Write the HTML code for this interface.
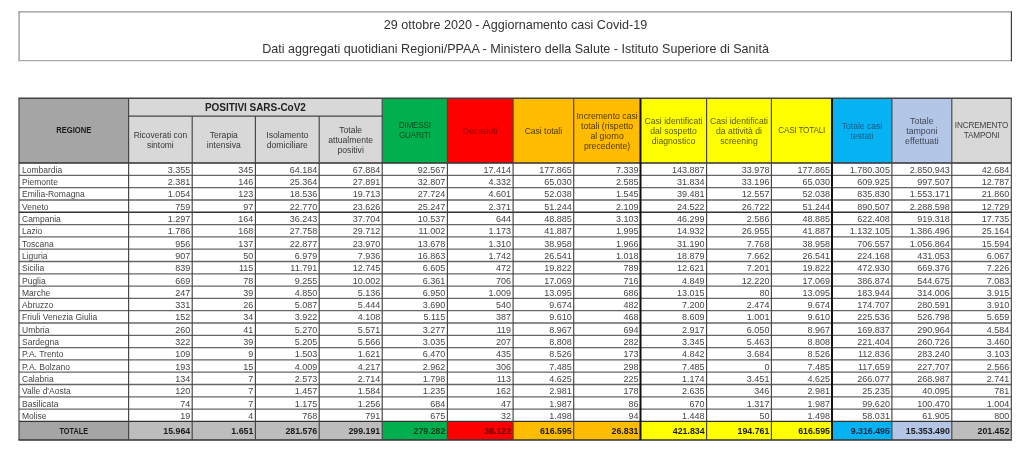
<!DOCTYPE html>
<html><head><meta charset="utf-8"><style>
html,body{margin:0;padding:0;background:#fff;width:1024px;height:451px;overflow:hidden}
body{position:relative;font-family:"Liberation Sans",sans-serif;color:#454545}
#w>div{position:absolute;box-sizing:border-box}
.title{left:19px;top:11px;width:993px;height:50px}
.t1,.t2{position:absolute;left:0;width:100%;text-align:center;font-size:12.57px;color:#333;white-space:nowrap;line-height:14px}
.t1{top:7px}
.t2{top:31.2px}
.ht{position:absolute;left:0;right:0;top:calc(50% + 0.5px);transform:translateY(-50%);text-align:center;font-size:8.6px;line-height:10px}
.b{font-weight:bold}
.pos{position:absolute;left:0;right:0;top:3.4px;text-align:center;font-size:10px;letter-spacing:-0.05px;font-weight:bold;color:#222;line-height:12px}
.dl{position:absolute;left:3px;bottom:0.6px;font-size:8.5px;line-height:10px;white-space:nowrap}
.dr{position:absolute;right:2px;bottom:0.6px;font-size:9px;line-height:10px;white-space:nowrap}
.tc{position:absolute;left:0;right:0;text-align:center;top:4.9px;font-size:8.8px;transform:scaleX(0.83);font-weight:bold;color:#1a1a1a;line-height:10px}
.rg{transform:translateY(-50%) scaleX(0.93)}
.tr{position:absolute;right:2px;top:4.8px;font-size:8.8px;font-weight:bold;color:#1a1a1a;line-height:10px}
.ln{position:absolute}
</style></head><body>
<div id="w" style="position:absolute;left:0;top:0;width:1024px;height:451px;filter:blur(0.35px)">
<svg width="1024" height="451" style="position:absolute;left:0;top:0"><rect x="19.00" y="98.20" width="109.60" height="64.90" fill="#a5a5a5"/><rect x="128.60" y="116.20" width="63.60" height="46.90" fill="#d8d8d8"/><rect x="192.20" y="116.20" width="63.20" height="46.90" fill="#d8d8d8"/><rect x="255.40" y="116.20" width="63.80" height="46.90" fill="#d8d8d8"/><rect x="319.20" y="116.20" width="63.00" height="46.90" fill="#d8d8d8"/><rect x="382.20" y="98.20" width="65.20" height="64.90" fill="#00b04f"/><rect x="447.40" y="98.20" width="65.70" height="64.90" fill="#fe0000"/><rect x="513.10" y="98.20" width="60.60" height="64.90" fill="#ffbc00"/><rect x="573.70" y="98.20" width="66.80" height="64.90" fill="#ffbc00"/><rect x="640.50" y="98.20" width="66.10" height="64.90" fill="#ffff00"/><rect x="706.60" y="98.20" width="64.80" height="64.90" fill="#ffff00"/><rect x="771.40" y="98.20" width="60.60" height="64.90" fill="#ffff00"/><rect x="832.00" y="98.20" width="59.90" height="64.90" fill="#06b2f2"/><rect x="891.90" y="98.20" width="59.90" height="64.90" fill="#b4c6e6"/><rect x="951.80" y="98.20" width="59.50" height="64.90" fill="#d8d8d8"/><rect x="128.60" y="98.20" width="253.60" height="18.00" fill="#d8d8d8"/><rect x="19.00" y="421.40" width="109.60" height="18.60" fill="#a5a5a5"/><rect x="128.60" y="421.40" width="63.60" height="18.60" fill="#bdbdbd"/><rect x="192.20" y="421.40" width="63.20" height="18.60" fill="#bdbdbd"/><rect x="255.40" y="421.40" width="63.80" height="18.60" fill="#bdbdbd"/><rect x="319.20" y="421.40" width="63.00" height="18.60" fill="#bdbdbd"/><rect x="382.20" y="421.40" width="65.20" height="18.60" fill="#00b04f"/><rect x="447.40" y="421.40" width="65.70" height="18.60" fill="#fe0000"/><rect x="513.10" y="421.40" width="60.60" height="18.60" fill="#ffbc00"/><rect x="573.70" y="421.40" width="66.80" height="18.60" fill="#ffbc00"/><rect x="640.50" y="421.40" width="66.10" height="18.60" fill="#ffff00"/><rect x="706.60" y="421.40" width="64.80" height="18.60" fill="#ffff00"/><rect x="771.40" y="421.40" width="60.60" height="18.60" fill="#ffff00"/><rect x="832.00" y="421.40" width="59.90" height="18.60" fill="#06b2f2"/><rect x="891.90" y="421.40" width="59.90" height="18.60" fill="#b4c6e6"/><rect x="951.80" y="421.40" width="59.50" height="18.60" fill="#bdbdbd"/><line x1="18.40" y1="98.20" x2="1011.90" y2="98.20" stroke="#444444" stroke-width="1.4"/><line x1="128.60" y1="116.20" x2="382.20" y2="116.20" stroke="#444444" stroke-width="1.3"/><line x1="19.00" y1="163.10" x2="1011.30" y2="163.10" stroke="#333" stroke-width="1.5"/><line x1="19.00" y1="175.40" x2="1011.30" y2="175.40" stroke="#666666" stroke-width="1.3"/><line x1="19.00" y1="187.70" x2="1011.30" y2="187.70" stroke="#666666" stroke-width="1.3"/><line x1="19.00" y1="200.00" x2="1011.30" y2="200.00" stroke="#666666" stroke-width="1.3"/><line x1="19.00" y1="212.30" x2="1011.30" y2="212.30" stroke="#333333" stroke-width="1.4"/><line x1="19.00" y1="224.60" x2="1011.30" y2="224.60" stroke="#666666" stroke-width="1.3"/><line x1="19.00" y1="236.90" x2="1011.30" y2="236.90" stroke="#666666" stroke-width="1.3"/><line x1="19.00" y1="249.20" x2="1011.30" y2="249.20" stroke="#666666" stroke-width="1.3"/><line x1="19.00" y1="261.50" x2="1011.30" y2="261.50" stroke="#666666" stroke-width="1.3"/><line x1="19.00" y1="273.80" x2="1011.30" y2="273.80" stroke="#666666" stroke-width="1.3"/><line x1="19.00" y1="286.10" x2="1011.30" y2="286.10" stroke="#666666" stroke-width="1.3"/><line x1="19.00" y1="298.40" x2="1011.30" y2="298.40" stroke="#666666" stroke-width="1.3"/><line x1="19.00" y1="310.70" x2="1011.30" y2="310.70" stroke="#666666" stroke-width="1.3"/><line x1="19.00" y1="323.00" x2="1011.30" y2="323.00" stroke="#666666" stroke-width="1.3"/><line x1="19.00" y1="335.30" x2="1011.30" y2="335.30" stroke="#666666" stroke-width="1.3"/><line x1="19.00" y1="347.60" x2="1011.30" y2="347.60" stroke="#666666" stroke-width="1.3"/><line x1="19.00" y1="359.90" x2="1011.30" y2="359.90" stroke="#666666" stroke-width="1.3"/><line x1="19.00" y1="372.20" x2="1011.30" y2="372.20" stroke="#666666" stroke-width="1.3"/><line x1="19.00" y1="384.50" x2="1011.30" y2="384.50" stroke="#666666" stroke-width="1.3"/><line x1="19.00" y1="396.80" x2="1011.30" y2="396.80" stroke="#666666" stroke-width="1.3"/><line x1="19.00" y1="409.10" x2="1011.30" y2="409.10" stroke="#666666" stroke-width="1.3"/><line x1="19.00" y1="421.40" x2="1011.30" y2="421.40" stroke="#333" stroke-width="1.4"/><line x1="18.40" y1="440.00" x2="1011.90" y2="440.00" stroke="#333" stroke-width="1.5"/><line x1="19.00" y1="98.20" x2="19.00" y2="440.00" stroke="#444444" stroke-width="1.15"/><line x1="128.60" y1="98.20" x2="128.60" y2="440.00" stroke="#444444" stroke-width="1.15"/><line x1="192.20" y1="116.20" x2="192.20" y2="440.00" stroke="#444444" stroke-width="1.15"/><line x1="255.40" y1="116.20" x2="255.40" y2="440.00" stroke="#444444" stroke-width="1.15"/><line x1="319.20" y1="116.20" x2="319.20" y2="440.00" stroke="#444444" stroke-width="1.15"/><line x1="382.20" y1="98.20" x2="382.20" y2="440.00" stroke="#444444" stroke-width="1.15"/><line x1="447.40" y1="98.20" x2="447.40" y2="440.00" stroke="#444444" stroke-width="1.15"/><line x1="513.10" y1="98.20" x2="513.10" y2="440.00" stroke="#444444" stroke-width="1.15"/><line x1="573.70" y1="98.20" x2="573.70" y2="440.00" stroke="#444444" stroke-width="1.15"/><line x1="640.50" y1="98.20" x2="640.50" y2="440.00" stroke="#111" stroke-width="2.0"/><line x1="706.60" y1="98.20" x2="706.60" y2="440.00" stroke="#444444" stroke-width="1.15"/><line x1="771.40" y1="98.20" x2="771.40" y2="440.00" stroke="#444444" stroke-width="1.15"/><line x1="832.00" y1="98.20" x2="832.00" y2="440.00" stroke="#111" stroke-width="2.0"/><line x1="891.90" y1="98.20" x2="891.90" y2="440.00" stroke="#444444" stroke-width="1.15"/><line x1="951.80" y1="98.20" x2="951.80" y2="440.00" stroke="#444444" stroke-width="1.15"/><line x1="1011.30" y1="98.20" x2="1011.30" y2="440.00" stroke="#444444" stroke-width="1.15"/><line x1="18.5" y1="11.8" x2="1011.4" y2="11.8" stroke="#959595" stroke-width="1.3"/><line x1="19.1" y1="11.2" x2="19.1" y2="61.3" stroke="#959595" stroke-width="1.3"/><line x1="18.5" y1="60.7" x2="1011.4" y2="60.7" stroke="#aaaaaa" stroke-width="1.3"/><line x1="1011.4" y1="11.2" x2="1011.4" y2="61.3" stroke="#404040" stroke-width="1.2"/></svg>
<div class="title"><div class="t1">29 ottobre 2020 - Aggiornamento casi Covid-19</div><div class="t2">Dati aggregati quotidiani Regioni/PPAA - Ministero della Salute - Istituto Superiore di Sanità</div></div>
<div style="left:19.00px;top:98.20px;width:109.60px;height:64.90px;"><div class="ht b rg" style="color:#1a1a1a;font-size:8.2px;letter-spacing:0px;line-height:10px">REGIONE</div></div>
<div style="left:128.60px;top:116.20px;width:63.60px;height:46.90px;"><div class="ht" style="color:#383838;font-size:8.45px;letter-spacing:0px;line-height:10px">Ricoverati con<br>sintomi</div></div>
<div style="left:192.20px;top:116.20px;width:63.20px;height:46.90px;"><div class="ht" style="color:#383838;font-size:8.6px;letter-spacing:0px;line-height:10px">Terapia<br>intensiva</div></div>
<div style="left:255.40px;top:116.20px;width:63.80px;height:46.90px;"><div class="ht" style="color:#383838;font-size:8.6px;letter-spacing:0px;line-height:10px">Isolamento<br>domiciliare</div></div>
<div style="left:319.20px;top:116.20px;width:63.00px;height:46.90px;"><div class="ht" style="color:#383838;font-size:8.6px;letter-spacing:0px;line-height:10px">Totale<br>attualmente<br>positivi</div></div>
<div style="left:382.20px;top:98.20px;width:65.20px;height:64.90px;"><div class="ht" style="color:#0b4a1e;font-size:8.2px;letter-spacing:-0.2px;line-height:9.6px">DIMESSI<br>GUARITI</div></div>
<div style="left:447.40px;top:98.20px;width:65.70px;height:64.90px;"><div class="ht" style="color:#9a0000;font-size:8.8px;letter-spacing:0px;line-height:10px">Deceduti</div></div>
<div style="left:513.10px;top:98.20px;width:60.60px;height:64.90px;"><div class="ht" style="color:#4f3800;font-size:8.56px;letter-spacing:0px;line-height:10px">Casi totali</div></div>
<div style="left:573.70px;top:98.20px;width:66.80px;height:64.90px;"><div class="ht" style="color:#4f3800;font-size:8.7px;letter-spacing:0px;line-height:10px">Incremento casi<br>totali (rispetto<br>al giorno<br>precedente)</div></div>
<div style="left:640.50px;top:98.20px;width:66.10px;height:64.90px;"><div class="ht" style="color:#5a5a00;font-size:8.64px;letter-spacing:0px;line-height:10px">Casi identificati<br>dal sospetto<br>diagnostico</div></div>
<div style="left:706.60px;top:98.20px;width:64.80px;height:64.90px;"><div class="ht" style="color:#5a5a00;font-size:8.64px;letter-spacing:0px;line-height:10px">Casi identificati<br>da attività di<br>screening</div></div>
<div style="left:771.40px;top:98.20px;width:60.60px;height:64.90px;"><div class="ht" style="color:#5a5a00;font-size:8.2px;letter-spacing:-0.22px;line-height:10px">CASI TOTALI</div></div>
<div style="left:832.00px;top:98.20px;width:59.90px;height:64.90px;"><div class="ht" style="color:#185a80;font-size:8.5px;letter-spacing:0px;line-height:10px">Totale casi<br>testati</div></div>
<div style="left:891.90px;top:98.20px;width:59.90px;height:64.90px;"><div class="ht" style="color:#404858;font-size:8.8px;letter-spacing:0px;line-height:10px">Totale<br>tamponi<br>effettuati</div></div>
<div style="left:951.80px;top:98.20px;width:59.50px;height:64.90px;"><div class="ht" style="color:#404040;font-size:8.2px;letter-spacing:-0.15px;line-height:10px">INCREMENTO<br>TAMPONI</div></div>
<div style="left:128.60px;top:98.20px;width:253.60px;height:18.00px;"><div class="pos">POSITIVI SARS-CoV2</div></div>
<div style="left:19.00px;top:163.10px;width:109.60px;height:12.30px;"><span class="dl">Lombardia</span></div>
<div style="left:128.60px;top:163.10px;width:63.60px;height:12.30px;"><span class="dr">3.355</span></div>
<div style="left:192.20px;top:163.10px;width:63.20px;height:12.30px;"><span class="dr">345</span></div>
<div style="left:255.40px;top:163.10px;width:63.80px;height:12.30px;"><span class="dr">64.184</span></div>
<div style="left:319.20px;top:163.10px;width:63.00px;height:12.30px;"><span class="dr">67.884</span></div>
<div style="left:382.20px;top:163.10px;width:65.20px;height:12.30px;"><span class="dr">92.567</span></div>
<div style="left:447.40px;top:163.10px;width:65.70px;height:12.30px;"><span class="dr">17.414</span></div>
<div style="left:513.10px;top:163.10px;width:60.60px;height:12.30px;"><span class="dr">177.865</span></div>
<div style="left:573.70px;top:163.10px;width:66.80px;height:12.30px;"><span class="dr">7.339</span></div>
<div style="left:640.50px;top:163.10px;width:66.10px;height:12.30px;"><span class="dr">143.887</span></div>
<div style="left:706.60px;top:163.10px;width:64.80px;height:12.30px;"><span class="dr">33.978</span></div>
<div style="left:771.40px;top:163.10px;width:60.60px;height:12.30px;"><span class="dr">177.865</span></div>
<div style="left:832.00px;top:163.10px;width:59.90px;height:12.30px;"><span class="dr">1.780.305</span></div>
<div style="left:891.90px;top:163.10px;width:59.90px;height:12.30px;"><span class="dr">2.850.943</span></div>
<div style="left:951.80px;top:163.10px;width:59.50px;height:12.30px;"><span class="dr">42.684</span></div>
<div style="left:19.00px;top:175.40px;width:109.60px;height:12.30px;"><span class="dl">Piemonte</span></div>
<div style="left:128.60px;top:175.40px;width:63.60px;height:12.30px;"><span class="dr">2.381</span></div>
<div style="left:192.20px;top:175.40px;width:63.20px;height:12.30px;"><span class="dr">146</span></div>
<div style="left:255.40px;top:175.40px;width:63.80px;height:12.30px;"><span class="dr">25.364</span></div>
<div style="left:319.20px;top:175.40px;width:63.00px;height:12.30px;"><span class="dr">27.891</span></div>
<div style="left:382.20px;top:175.40px;width:65.20px;height:12.30px;"><span class="dr">32.807</span></div>
<div style="left:447.40px;top:175.40px;width:65.70px;height:12.30px;"><span class="dr">4.332</span></div>
<div style="left:513.10px;top:175.40px;width:60.60px;height:12.30px;"><span class="dr">65.030</span></div>
<div style="left:573.70px;top:175.40px;width:66.80px;height:12.30px;"><span class="dr">2.585</span></div>
<div style="left:640.50px;top:175.40px;width:66.10px;height:12.30px;"><span class="dr">31.834</span></div>
<div style="left:706.60px;top:175.40px;width:64.80px;height:12.30px;"><span class="dr">33.196</span></div>
<div style="left:771.40px;top:175.40px;width:60.60px;height:12.30px;"><span class="dr">65.030</span></div>
<div style="left:832.00px;top:175.40px;width:59.90px;height:12.30px;"><span class="dr">609.925</span></div>
<div style="left:891.90px;top:175.40px;width:59.90px;height:12.30px;"><span class="dr">997.507</span></div>
<div style="left:951.80px;top:175.40px;width:59.50px;height:12.30px;"><span class="dr">12.787</span></div>
<div style="left:19.00px;top:187.70px;width:109.60px;height:12.30px;"><span class="dl">Emilia-Romagna</span></div>
<div style="left:128.60px;top:187.70px;width:63.60px;height:12.30px;"><span class="dr">1.054</span></div>
<div style="left:192.20px;top:187.70px;width:63.20px;height:12.30px;"><span class="dr">123</span></div>
<div style="left:255.40px;top:187.70px;width:63.80px;height:12.30px;"><span class="dr">18.536</span></div>
<div style="left:319.20px;top:187.70px;width:63.00px;height:12.30px;"><span class="dr">19.713</span></div>
<div style="left:382.20px;top:187.70px;width:65.20px;height:12.30px;"><span class="dr">27.724</span></div>
<div style="left:447.40px;top:187.70px;width:65.70px;height:12.30px;"><span class="dr">4.601</span></div>
<div style="left:513.10px;top:187.70px;width:60.60px;height:12.30px;"><span class="dr">52.038</span></div>
<div style="left:573.70px;top:187.70px;width:66.80px;height:12.30px;"><span class="dr">1.545</span></div>
<div style="left:640.50px;top:187.70px;width:66.10px;height:12.30px;"><span class="dr">39.481</span></div>
<div style="left:706.60px;top:187.70px;width:64.80px;height:12.30px;"><span class="dr">12.557</span></div>
<div style="left:771.40px;top:187.70px;width:60.60px;height:12.30px;"><span class="dr">52.038</span></div>
<div style="left:832.00px;top:187.70px;width:59.90px;height:12.30px;"><span class="dr">835.830</span></div>
<div style="left:891.90px;top:187.70px;width:59.90px;height:12.30px;"><span class="dr">1.553.171</span></div>
<div style="left:951.80px;top:187.70px;width:59.50px;height:12.30px;"><span class="dr">21.860</span></div>
<div style="left:19.00px;top:200.00px;width:109.60px;height:12.30px;"><span class="dl">Veneto</span></div>
<div style="left:128.60px;top:200.00px;width:63.60px;height:12.30px;"><span class="dr">759</span></div>
<div style="left:192.20px;top:200.00px;width:63.20px;height:12.30px;"><span class="dr">97</span></div>
<div style="left:255.40px;top:200.00px;width:63.80px;height:12.30px;"><span class="dr">22.770</span></div>
<div style="left:319.20px;top:200.00px;width:63.00px;height:12.30px;"><span class="dr">23.626</span></div>
<div style="left:382.20px;top:200.00px;width:65.20px;height:12.30px;"><span class="dr">25.247</span></div>
<div style="left:447.40px;top:200.00px;width:65.70px;height:12.30px;"><span class="dr">2.371</span></div>
<div style="left:513.10px;top:200.00px;width:60.60px;height:12.30px;"><span class="dr">51.244</span></div>
<div style="left:573.70px;top:200.00px;width:66.80px;height:12.30px;"><span class="dr">2.109</span></div>
<div style="left:640.50px;top:200.00px;width:66.10px;height:12.30px;"><span class="dr">24.522</span></div>
<div style="left:706.60px;top:200.00px;width:64.80px;height:12.30px;"><span class="dr">26.722</span></div>
<div style="left:771.40px;top:200.00px;width:60.60px;height:12.30px;"><span class="dr">51.244</span></div>
<div style="left:832.00px;top:200.00px;width:59.90px;height:12.30px;"><span class="dr">890.507</span></div>
<div style="left:891.90px;top:200.00px;width:59.90px;height:12.30px;"><span class="dr">2.288.598</span></div>
<div style="left:951.80px;top:200.00px;width:59.50px;height:12.30px;"><span class="dr">12.729</span></div>
<div style="left:19.00px;top:212.30px;width:109.60px;height:12.30px;"><span class="dl">Campania</span></div>
<div style="left:128.60px;top:212.30px;width:63.60px;height:12.30px;"><span class="dr">1.297</span></div>
<div style="left:192.20px;top:212.30px;width:63.20px;height:12.30px;"><span class="dr">164</span></div>
<div style="left:255.40px;top:212.30px;width:63.80px;height:12.30px;"><span class="dr">36.243</span></div>
<div style="left:319.20px;top:212.30px;width:63.00px;height:12.30px;"><span class="dr">37.704</span></div>
<div style="left:382.20px;top:212.30px;width:65.20px;height:12.30px;"><span class="dr">10.537</span></div>
<div style="left:447.40px;top:212.30px;width:65.70px;height:12.30px;"><span class="dr">644</span></div>
<div style="left:513.10px;top:212.30px;width:60.60px;height:12.30px;"><span class="dr">48.885</span></div>
<div style="left:573.70px;top:212.30px;width:66.80px;height:12.30px;"><span class="dr">3.103</span></div>
<div style="left:640.50px;top:212.30px;width:66.10px;height:12.30px;"><span class="dr">46.299</span></div>
<div style="left:706.60px;top:212.30px;width:64.80px;height:12.30px;"><span class="dr">2.586</span></div>
<div style="left:771.40px;top:212.30px;width:60.60px;height:12.30px;"><span class="dr">48.885</span></div>
<div style="left:832.00px;top:212.30px;width:59.90px;height:12.30px;"><span class="dr">622.408</span></div>
<div style="left:891.90px;top:212.30px;width:59.90px;height:12.30px;"><span class="dr">919.318</span></div>
<div style="left:951.80px;top:212.30px;width:59.50px;height:12.30px;"><span class="dr">17.735</span></div>
<div style="left:19.00px;top:224.60px;width:109.60px;height:12.30px;"><span class="dl">Lazio</span></div>
<div style="left:128.60px;top:224.60px;width:63.60px;height:12.30px;"><span class="dr">1.786</span></div>
<div style="left:192.20px;top:224.60px;width:63.20px;height:12.30px;"><span class="dr">168</span></div>
<div style="left:255.40px;top:224.60px;width:63.80px;height:12.30px;"><span class="dr">27.758</span></div>
<div style="left:319.20px;top:224.60px;width:63.00px;height:12.30px;"><span class="dr">29.712</span></div>
<div style="left:382.20px;top:224.60px;width:65.20px;height:12.30px;"><span class="dr">11.002</span></div>
<div style="left:447.40px;top:224.60px;width:65.70px;height:12.30px;"><span class="dr">1.173</span></div>
<div style="left:513.10px;top:224.60px;width:60.60px;height:12.30px;"><span class="dr">41.887</span></div>
<div style="left:573.70px;top:224.60px;width:66.80px;height:12.30px;"><span class="dr">1.995</span></div>
<div style="left:640.50px;top:224.60px;width:66.10px;height:12.30px;"><span class="dr">14.932</span></div>
<div style="left:706.60px;top:224.60px;width:64.80px;height:12.30px;"><span class="dr">26.955</span></div>
<div style="left:771.40px;top:224.60px;width:60.60px;height:12.30px;"><span class="dr">41.887</span></div>
<div style="left:832.00px;top:224.60px;width:59.90px;height:12.30px;"><span class="dr">1.132.105</span></div>
<div style="left:891.90px;top:224.60px;width:59.90px;height:12.30px;"><span class="dr">1.386.496</span></div>
<div style="left:951.80px;top:224.60px;width:59.50px;height:12.30px;"><span class="dr">25.164</span></div>
<div style="left:19.00px;top:236.90px;width:109.60px;height:12.30px;"><span class="dl">Toscana</span></div>
<div style="left:128.60px;top:236.90px;width:63.60px;height:12.30px;"><span class="dr">956</span></div>
<div style="left:192.20px;top:236.90px;width:63.20px;height:12.30px;"><span class="dr">137</span></div>
<div style="left:255.40px;top:236.90px;width:63.80px;height:12.30px;"><span class="dr">22.877</span></div>
<div style="left:319.20px;top:236.90px;width:63.00px;height:12.30px;"><span class="dr">23.970</span></div>
<div style="left:382.20px;top:236.90px;width:65.20px;height:12.30px;"><span class="dr">13.678</span></div>
<div style="left:447.40px;top:236.90px;width:65.70px;height:12.30px;"><span class="dr">1.310</span></div>
<div style="left:513.10px;top:236.90px;width:60.60px;height:12.30px;"><span class="dr">38.958</span></div>
<div style="left:573.70px;top:236.90px;width:66.80px;height:12.30px;"><span class="dr">1.966</span></div>
<div style="left:640.50px;top:236.90px;width:66.10px;height:12.30px;"><span class="dr">31.190</span></div>
<div style="left:706.60px;top:236.90px;width:64.80px;height:12.30px;"><span class="dr">7.768</span></div>
<div style="left:771.40px;top:236.90px;width:60.60px;height:12.30px;"><span class="dr">38.958</span></div>
<div style="left:832.00px;top:236.90px;width:59.90px;height:12.30px;"><span class="dr">706.557</span></div>
<div style="left:891.90px;top:236.90px;width:59.90px;height:12.30px;"><span class="dr">1.056.864</span></div>
<div style="left:951.80px;top:236.90px;width:59.50px;height:12.30px;"><span class="dr">15.594</span></div>
<div style="left:19.00px;top:249.20px;width:109.60px;height:12.30px;"><span class="dl">Liguria</span></div>
<div style="left:128.60px;top:249.20px;width:63.60px;height:12.30px;"><span class="dr">907</span></div>
<div style="left:192.20px;top:249.20px;width:63.20px;height:12.30px;"><span class="dr">50</span></div>
<div style="left:255.40px;top:249.20px;width:63.80px;height:12.30px;"><span class="dr">6.979</span></div>
<div style="left:319.20px;top:249.20px;width:63.00px;height:12.30px;"><span class="dr">7.936</span></div>
<div style="left:382.20px;top:249.20px;width:65.20px;height:12.30px;"><span class="dr">16.863</span></div>
<div style="left:447.40px;top:249.20px;width:65.70px;height:12.30px;"><span class="dr">1.742</span></div>
<div style="left:513.10px;top:249.20px;width:60.60px;height:12.30px;"><span class="dr">26.541</span></div>
<div style="left:573.70px;top:249.20px;width:66.80px;height:12.30px;"><span class="dr">1.018</span></div>
<div style="left:640.50px;top:249.20px;width:66.10px;height:12.30px;"><span class="dr">18.879</span></div>
<div style="left:706.60px;top:249.20px;width:64.80px;height:12.30px;"><span class="dr">7.662</span></div>
<div style="left:771.40px;top:249.20px;width:60.60px;height:12.30px;"><span class="dr">26.541</span></div>
<div style="left:832.00px;top:249.20px;width:59.90px;height:12.30px;"><span class="dr">224.168</span></div>
<div style="left:891.90px;top:249.20px;width:59.90px;height:12.30px;"><span class="dr">431.053</span></div>
<div style="left:951.80px;top:249.20px;width:59.50px;height:12.30px;"><span class="dr">6.067</span></div>
<div style="left:19.00px;top:261.50px;width:109.60px;height:12.30px;"><span class="dl">Sicilia</span></div>
<div style="left:128.60px;top:261.50px;width:63.60px;height:12.30px;"><span class="dr">839</span></div>
<div style="left:192.20px;top:261.50px;width:63.20px;height:12.30px;"><span class="dr">115</span></div>
<div style="left:255.40px;top:261.50px;width:63.80px;height:12.30px;"><span class="dr">11.791</span></div>
<div style="left:319.20px;top:261.50px;width:63.00px;height:12.30px;"><span class="dr">12.745</span></div>
<div style="left:382.20px;top:261.50px;width:65.20px;height:12.30px;"><span class="dr">6.605</span></div>
<div style="left:447.40px;top:261.50px;width:65.70px;height:12.30px;"><span class="dr">472</span></div>
<div style="left:513.10px;top:261.50px;width:60.60px;height:12.30px;"><span class="dr">19.822</span></div>
<div style="left:573.70px;top:261.50px;width:66.80px;height:12.30px;"><span class="dr">789</span></div>
<div style="left:640.50px;top:261.50px;width:66.10px;height:12.30px;"><span class="dr">12.621</span></div>
<div style="left:706.60px;top:261.50px;width:64.80px;height:12.30px;"><span class="dr">7.201</span></div>
<div style="left:771.40px;top:261.50px;width:60.60px;height:12.30px;"><span class="dr">19.822</span></div>
<div style="left:832.00px;top:261.50px;width:59.90px;height:12.30px;"><span class="dr">472.930</span></div>
<div style="left:891.90px;top:261.50px;width:59.90px;height:12.30px;"><span class="dr">669.376</span></div>
<div style="left:951.80px;top:261.50px;width:59.50px;height:12.30px;"><span class="dr">7.226</span></div>
<div style="left:19.00px;top:273.80px;width:109.60px;height:12.30px;"><span class="dl">Puglia</span></div>
<div style="left:128.60px;top:273.80px;width:63.60px;height:12.30px;"><span class="dr">669</span></div>
<div style="left:192.20px;top:273.80px;width:63.20px;height:12.30px;"><span class="dr">78</span></div>
<div style="left:255.40px;top:273.80px;width:63.80px;height:12.30px;"><span class="dr">9.255</span></div>
<div style="left:319.20px;top:273.80px;width:63.00px;height:12.30px;"><span class="dr">10.002</span></div>
<div style="left:382.20px;top:273.80px;width:65.20px;height:12.30px;"><span class="dr">6.361</span></div>
<div style="left:447.40px;top:273.80px;width:65.70px;height:12.30px;"><span class="dr">706</span></div>
<div style="left:513.10px;top:273.80px;width:60.60px;height:12.30px;"><span class="dr">17.069</span></div>
<div style="left:573.70px;top:273.80px;width:66.80px;height:12.30px;"><span class="dr">716</span></div>
<div style="left:640.50px;top:273.80px;width:66.10px;height:12.30px;"><span class="dr">4.849</span></div>
<div style="left:706.60px;top:273.80px;width:64.80px;height:12.30px;"><span class="dr">12.220</span></div>
<div style="left:771.40px;top:273.80px;width:60.60px;height:12.30px;"><span class="dr">17.069</span></div>
<div style="left:832.00px;top:273.80px;width:59.90px;height:12.30px;"><span class="dr">386.874</span></div>
<div style="left:891.90px;top:273.80px;width:59.90px;height:12.30px;"><span class="dr">544.675</span></div>
<div style="left:951.80px;top:273.80px;width:59.50px;height:12.30px;"><span class="dr">7.083</span></div>
<div style="left:19.00px;top:286.10px;width:109.60px;height:12.30px;"><span class="dl">Marche</span></div>
<div style="left:128.60px;top:286.10px;width:63.60px;height:12.30px;"><span class="dr">247</span></div>
<div style="left:192.20px;top:286.10px;width:63.20px;height:12.30px;"><span class="dr">39</span></div>
<div style="left:255.40px;top:286.10px;width:63.80px;height:12.30px;"><span class="dr">4.850</span></div>
<div style="left:319.20px;top:286.10px;width:63.00px;height:12.30px;"><span class="dr">5.136</span></div>
<div style="left:382.20px;top:286.10px;width:65.20px;height:12.30px;"><span class="dr">6.950</span></div>
<div style="left:447.40px;top:286.10px;width:65.70px;height:12.30px;"><span class="dr">1.009</span></div>
<div style="left:513.10px;top:286.10px;width:60.60px;height:12.30px;"><span class="dr">13.095</span></div>
<div style="left:573.70px;top:286.10px;width:66.80px;height:12.30px;"><span class="dr">686</span></div>
<div style="left:640.50px;top:286.10px;width:66.10px;height:12.30px;"><span class="dr">13.015</span></div>
<div style="left:706.60px;top:286.10px;width:64.80px;height:12.30px;"><span class="dr">80</span></div>
<div style="left:771.40px;top:286.10px;width:60.60px;height:12.30px;"><span class="dr">13.095</span></div>
<div style="left:832.00px;top:286.10px;width:59.90px;height:12.30px;"><span class="dr">183.944</span></div>
<div style="left:891.90px;top:286.10px;width:59.90px;height:12.30px;"><span class="dr">314.006</span></div>
<div style="left:951.80px;top:286.10px;width:59.50px;height:12.30px;"><span class="dr">3.915</span></div>
<div style="left:19.00px;top:298.40px;width:109.60px;height:12.30px;"><span class="dl">Abruzzo</span></div>
<div style="left:128.60px;top:298.40px;width:63.60px;height:12.30px;"><span class="dr">331</span></div>
<div style="left:192.20px;top:298.40px;width:63.20px;height:12.30px;"><span class="dr">26</span></div>
<div style="left:255.40px;top:298.40px;width:63.80px;height:12.30px;"><span class="dr">5.087</span></div>
<div style="left:319.20px;top:298.40px;width:63.00px;height:12.30px;"><span class="dr">5.444</span></div>
<div style="left:382.20px;top:298.40px;width:65.20px;height:12.30px;"><span class="dr">3.690</span></div>
<div style="left:447.40px;top:298.40px;width:65.70px;height:12.30px;"><span class="dr">540</span></div>
<div style="left:513.10px;top:298.40px;width:60.60px;height:12.30px;"><span class="dr">9.674</span></div>
<div style="left:573.70px;top:298.40px;width:66.80px;height:12.30px;"><span class="dr">482</span></div>
<div style="left:640.50px;top:298.40px;width:66.10px;height:12.30px;"><span class="dr">7.200</span></div>
<div style="left:706.60px;top:298.40px;width:64.80px;height:12.30px;"><span class="dr">2.474</span></div>
<div style="left:771.40px;top:298.40px;width:60.60px;height:12.30px;"><span class="dr">9.674</span></div>
<div style="left:832.00px;top:298.40px;width:59.90px;height:12.30px;"><span class="dr">174.707</span></div>
<div style="left:891.90px;top:298.40px;width:59.90px;height:12.30px;"><span class="dr">280.591</span></div>
<div style="left:951.80px;top:298.40px;width:59.50px;height:12.30px;"><span class="dr">3.910</span></div>
<div style="left:19.00px;top:310.70px;width:109.60px;height:12.30px;"><span class="dl">Friuli Venezia Giulia</span></div>
<div style="left:128.60px;top:310.70px;width:63.60px;height:12.30px;"><span class="dr">152</span></div>
<div style="left:192.20px;top:310.70px;width:63.20px;height:12.30px;"><span class="dr">34</span></div>
<div style="left:255.40px;top:310.70px;width:63.80px;height:12.30px;"><span class="dr">3.922</span></div>
<div style="left:319.20px;top:310.70px;width:63.00px;height:12.30px;"><span class="dr">4.108</span></div>
<div style="left:382.20px;top:310.70px;width:65.20px;height:12.30px;"><span class="dr">5.115</span></div>
<div style="left:447.40px;top:310.70px;width:65.70px;height:12.30px;"><span class="dr">387</span></div>
<div style="left:513.10px;top:310.70px;width:60.60px;height:12.30px;"><span class="dr">9.610</span></div>
<div style="left:573.70px;top:310.70px;width:66.80px;height:12.30px;"><span class="dr">468</span></div>
<div style="left:640.50px;top:310.70px;width:66.10px;height:12.30px;"><span class="dr">8.609</span></div>
<div style="left:706.60px;top:310.70px;width:64.80px;height:12.30px;"><span class="dr">1.001</span></div>
<div style="left:771.40px;top:310.70px;width:60.60px;height:12.30px;"><span class="dr">9.610</span></div>
<div style="left:832.00px;top:310.70px;width:59.90px;height:12.30px;"><span class="dr">225.536</span></div>
<div style="left:891.90px;top:310.70px;width:59.90px;height:12.30px;"><span class="dr">526.798</span></div>
<div style="left:951.80px;top:310.70px;width:59.50px;height:12.30px;"><span class="dr">5.659</span></div>
<div style="left:19.00px;top:323.00px;width:109.60px;height:12.30px;"><span class="dl">Umbria</span></div>
<div style="left:128.60px;top:323.00px;width:63.60px;height:12.30px;"><span class="dr">260</span></div>
<div style="left:192.20px;top:323.00px;width:63.20px;height:12.30px;"><span class="dr">41</span></div>
<div style="left:255.40px;top:323.00px;width:63.80px;height:12.30px;"><span class="dr">5.270</span></div>
<div style="left:319.20px;top:323.00px;width:63.00px;height:12.30px;"><span class="dr">5.571</span></div>
<div style="left:382.20px;top:323.00px;width:65.20px;height:12.30px;"><span class="dr">3.277</span></div>
<div style="left:447.40px;top:323.00px;width:65.70px;height:12.30px;"><span class="dr">119</span></div>
<div style="left:513.10px;top:323.00px;width:60.60px;height:12.30px;"><span class="dr">8.967</span></div>
<div style="left:573.70px;top:323.00px;width:66.80px;height:12.30px;"><span class="dr">694</span></div>
<div style="left:640.50px;top:323.00px;width:66.10px;height:12.30px;"><span class="dr">2.917</span></div>
<div style="left:706.60px;top:323.00px;width:64.80px;height:12.30px;"><span class="dr">6.050</span></div>
<div style="left:771.40px;top:323.00px;width:60.60px;height:12.30px;"><span class="dr">8.967</span></div>
<div style="left:832.00px;top:323.00px;width:59.90px;height:12.30px;"><span class="dr">169.837</span></div>
<div style="left:891.90px;top:323.00px;width:59.90px;height:12.30px;"><span class="dr">290.964</span></div>
<div style="left:951.80px;top:323.00px;width:59.50px;height:12.30px;"><span class="dr">4.584</span></div>
<div style="left:19.00px;top:335.30px;width:109.60px;height:12.30px;"><span class="dl">Sardegna</span></div>
<div style="left:128.60px;top:335.30px;width:63.60px;height:12.30px;"><span class="dr">322</span></div>
<div style="left:192.20px;top:335.30px;width:63.20px;height:12.30px;"><span class="dr">39</span></div>
<div style="left:255.40px;top:335.30px;width:63.80px;height:12.30px;"><span class="dr">5.205</span></div>
<div style="left:319.20px;top:335.30px;width:63.00px;height:12.30px;"><span class="dr">5.566</span></div>
<div style="left:382.20px;top:335.30px;width:65.20px;height:12.30px;"><span class="dr">3.035</span></div>
<div style="left:447.40px;top:335.30px;width:65.70px;height:12.30px;"><span class="dr">207</span></div>
<div style="left:513.10px;top:335.30px;width:60.60px;height:12.30px;"><span class="dr">8.808</span></div>
<div style="left:573.70px;top:335.30px;width:66.80px;height:12.30px;"><span class="dr">282</span></div>
<div style="left:640.50px;top:335.30px;width:66.10px;height:12.30px;"><span class="dr">3.345</span></div>
<div style="left:706.60px;top:335.30px;width:64.80px;height:12.30px;"><span class="dr">5.463</span></div>
<div style="left:771.40px;top:335.30px;width:60.60px;height:12.30px;"><span class="dr">8.808</span></div>
<div style="left:832.00px;top:335.30px;width:59.90px;height:12.30px;"><span class="dr">221.404</span></div>
<div style="left:891.90px;top:335.30px;width:59.90px;height:12.30px;"><span class="dr">260.726</span></div>
<div style="left:951.80px;top:335.30px;width:59.50px;height:12.30px;"><span class="dr">3.460</span></div>
<div style="left:19.00px;top:347.60px;width:109.60px;height:12.30px;"><span class="dl">P.A. Trento</span></div>
<div style="left:128.60px;top:347.60px;width:63.60px;height:12.30px;"><span class="dr">109</span></div>
<div style="left:192.20px;top:347.60px;width:63.20px;height:12.30px;"><span class="dr">9</span></div>
<div style="left:255.40px;top:347.60px;width:63.80px;height:12.30px;"><span class="dr">1.503</span></div>
<div style="left:319.20px;top:347.60px;width:63.00px;height:12.30px;"><span class="dr">1.621</span></div>
<div style="left:382.20px;top:347.60px;width:65.20px;height:12.30px;"><span class="dr">6.470</span></div>
<div style="left:447.40px;top:347.60px;width:65.70px;height:12.30px;"><span class="dr">435</span></div>
<div style="left:513.10px;top:347.60px;width:60.60px;height:12.30px;"><span class="dr">8.526</span></div>
<div style="left:573.70px;top:347.60px;width:66.80px;height:12.30px;"><span class="dr">173</span></div>
<div style="left:640.50px;top:347.60px;width:66.10px;height:12.30px;"><span class="dr">4.842</span></div>
<div style="left:706.60px;top:347.60px;width:64.80px;height:12.30px;"><span class="dr">3.684</span></div>
<div style="left:771.40px;top:347.60px;width:60.60px;height:12.30px;"><span class="dr">8.526</span></div>
<div style="left:832.00px;top:347.60px;width:59.90px;height:12.30px;"><span class="dr">112.836</span></div>
<div style="left:891.90px;top:347.60px;width:59.90px;height:12.30px;"><span class="dr">283.240</span></div>
<div style="left:951.80px;top:347.60px;width:59.50px;height:12.30px;"><span class="dr">3.103</span></div>
<div style="left:19.00px;top:359.90px;width:109.60px;height:12.30px;"><span class="dl">P.A. Bolzano</span></div>
<div style="left:128.60px;top:359.90px;width:63.60px;height:12.30px;"><span class="dr">193</span></div>
<div style="left:192.20px;top:359.90px;width:63.20px;height:12.30px;"><span class="dr">15</span></div>
<div style="left:255.40px;top:359.90px;width:63.80px;height:12.30px;"><span class="dr">4.009</span></div>
<div style="left:319.20px;top:359.90px;width:63.00px;height:12.30px;"><span class="dr">4.217</span></div>
<div style="left:382.20px;top:359.90px;width:65.20px;height:12.30px;"><span class="dr">2.962</span></div>
<div style="left:447.40px;top:359.90px;width:65.70px;height:12.30px;"><span class="dr">306</span></div>
<div style="left:513.10px;top:359.90px;width:60.60px;height:12.30px;"><span class="dr">7.485</span></div>
<div style="left:573.70px;top:359.90px;width:66.80px;height:12.30px;"><span class="dr">298</span></div>
<div style="left:640.50px;top:359.90px;width:66.10px;height:12.30px;"><span class="dr">7.485</span></div>
<div style="left:706.60px;top:359.90px;width:64.80px;height:12.30px;"><span class="dr">0</span></div>
<div style="left:771.40px;top:359.90px;width:60.60px;height:12.30px;"><span class="dr">7.485</span></div>
<div style="left:832.00px;top:359.90px;width:59.90px;height:12.30px;"><span class="dr">117.659</span></div>
<div style="left:891.90px;top:359.90px;width:59.90px;height:12.30px;"><span class="dr">227.707</span></div>
<div style="left:951.80px;top:359.90px;width:59.50px;height:12.30px;"><span class="dr">2.566</span></div>
<div style="left:19.00px;top:372.20px;width:109.60px;height:12.30px;"><span class="dl">Calabria</span></div>
<div style="left:128.60px;top:372.20px;width:63.60px;height:12.30px;"><span class="dr">134</span></div>
<div style="left:192.20px;top:372.20px;width:63.20px;height:12.30px;"><span class="dr">7</span></div>
<div style="left:255.40px;top:372.20px;width:63.80px;height:12.30px;"><span class="dr">2.573</span></div>
<div style="left:319.20px;top:372.20px;width:63.00px;height:12.30px;"><span class="dr">2.714</span></div>
<div style="left:382.20px;top:372.20px;width:65.20px;height:12.30px;"><span class="dr">1.798</span></div>
<div style="left:447.40px;top:372.20px;width:65.70px;height:12.30px;"><span class="dr">113</span></div>
<div style="left:513.10px;top:372.20px;width:60.60px;height:12.30px;"><span class="dr">4.625</span></div>
<div style="left:573.70px;top:372.20px;width:66.80px;height:12.30px;"><span class="dr">225</span></div>
<div style="left:640.50px;top:372.20px;width:66.10px;height:12.30px;"><span class="dr">1.174</span></div>
<div style="left:706.60px;top:372.20px;width:64.80px;height:12.30px;"><span class="dr">3.451</span></div>
<div style="left:771.40px;top:372.20px;width:60.60px;height:12.30px;"><span class="dr">4.625</span></div>
<div style="left:832.00px;top:372.20px;width:59.90px;height:12.30px;"><span class="dr">266.077</span></div>
<div style="left:891.90px;top:372.20px;width:59.90px;height:12.30px;"><span class="dr">268.987</span></div>
<div style="left:951.80px;top:372.20px;width:59.50px;height:12.30px;"><span class="dr">2.741</span></div>
<div style="left:19.00px;top:384.50px;width:109.60px;height:12.30px;"><span class="dl">Valle d'Aosta</span></div>
<div style="left:128.60px;top:384.50px;width:63.60px;height:12.30px;"><span class="dr">120</span></div>
<div style="left:192.20px;top:384.50px;width:63.20px;height:12.30px;"><span class="dr">7</span></div>
<div style="left:255.40px;top:384.50px;width:63.80px;height:12.30px;"><span class="dr">1.457</span></div>
<div style="left:319.20px;top:384.50px;width:63.00px;height:12.30px;"><span class="dr">1.584</span></div>
<div style="left:382.20px;top:384.50px;width:65.20px;height:12.30px;"><span class="dr">1.235</span></div>
<div style="left:447.40px;top:384.50px;width:65.70px;height:12.30px;"><span class="dr">162</span></div>
<div style="left:513.10px;top:384.50px;width:60.60px;height:12.30px;"><span class="dr">2.981</span></div>
<div style="left:573.70px;top:384.50px;width:66.80px;height:12.30px;"><span class="dr">178</span></div>
<div style="left:640.50px;top:384.50px;width:66.10px;height:12.30px;"><span class="dr">2.635</span></div>
<div style="left:706.60px;top:384.50px;width:64.80px;height:12.30px;"><span class="dr">346</span></div>
<div style="left:771.40px;top:384.50px;width:60.60px;height:12.30px;"><span class="dr">2.981</span></div>
<div style="left:832.00px;top:384.50px;width:59.90px;height:12.30px;"><span class="dr">25.235</span></div>
<div style="left:891.90px;top:384.50px;width:59.90px;height:12.30px;"><span class="dr">40.095</span></div>
<div style="left:951.80px;top:384.50px;width:59.50px;height:12.30px;"><span class="dr">781</span></div>
<div style="left:19.00px;top:396.80px;width:109.60px;height:12.30px;"><span class="dl">Basilicata</span></div>
<div style="left:128.60px;top:396.80px;width:63.60px;height:12.30px;"><span class="dr">74</span></div>
<div style="left:192.20px;top:396.80px;width:63.20px;height:12.30px;"><span class="dr">7</span></div>
<div style="left:255.40px;top:396.80px;width:63.80px;height:12.30px;"><span class="dr">1.175</span></div>
<div style="left:319.20px;top:396.80px;width:63.00px;height:12.30px;"><span class="dr">1.256</span></div>
<div style="left:382.20px;top:396.80px;width:65.20px;height:12.30px;"><span class="dr">684</span></div>
<div style="left:447.40px;top:396.80px;width:65.70px;height:12.30px;"><span class="dr">47</span></div>
<div style="left:513.10px;top:396.80px;width:60.60px;height:12.30px;"><span class="dr">1.987</span></div>
<div style="left:573.70px;top:396.80px;width:66.80px;height:12.30px;"><span class="dr">86</span></div>
<div style="left:640.50px;top:396.80px;width:66.10px;height:12.30px;"><span class="dr">670</span></div>
<div style="left:706.60px;top:396.80px;width:64.80px;height:12.30px;"><span class="dr">1.317</span></div>
<div style="left:771.40px;top:396.80px;width:60.60px;height:12.30px;"><span class="dr">1.987</span></div>
<div style="left:832.00px;top:396.80px;width:59.90px;height:12.30px;"><span class="dr">99.620</span></div>
<div style="left:891.90px;top:396.80px;width:59.90px;height:12.30px;"><span class="dr">100.470</span></div>
<div style="left:951.80px;top:396.80px;width:59.50px;height:12.30px;"><span class="dr">1.004</span></div>
<div style="left:19.00px;top:409.10px;width:109.60px;height:12.30px;"><span class="dl">Molise</span></div>
<div style="left:128.60px;top:409.10px;width:63.60px;height:12.30px;"><span class="dr">19</span></div>
<div style="left:192.20px;top:409.10px;width:63.20px;height:12.30px;"><span class="dr">4</span></div>
<div style="left:255.40px;top:409.10px;width:63.80px;height:12.30px;"><span class="dr">768</span></div>
<div style="left:319.20px;top:409.10px;width:63.00px;height:12.30px;"><span class="dr">791</span></div>
<div style="left:382.20px;top:409.10px;width:65.20px;height:12.30px;"><span class="dr">675</span></div>
<div style="left:447.40px;top:409.10px;width:65.70px;height:12.30px;"><span class="dr">32</span></div>
<div style="left:513.10px;top:409.10px;width:60.60px;height:12.30px;"><span class="dr">1.498</span></div>
<div style="left:573.70px;top:409.10px;width:66.80px;height:12.30px;"><span class="dr">94</span></div>
<div style="left:640.50px;top:409.10px;width:66.10px;height:12.30px;"><span class="dr">1.448</span></div>
<div style="left:706.60px;top:409.10px;width:64.80px;height:12.30px;"><span class="dr">50</span></div>
<div style="left:771.40px;top:409.10px;width:60.60px;height:12.30px;"><span class="dr">1.498</span></div>
<div style="left:832.00px;top:409.10px;width:59.90px;height:12.30px;"><span class="dr">58.031</span></div>
<div style="left:891.90px;top:409.10px;width:59.90px;height:12.30px;"><span class="dr">61.905</span></div>
<div style="left:951.80px;top:409.10px;width:59.50px;height:12.30px;"><span class="dr">800</span></div>
<div style="left:19.00px;top:421.40px;width:109.60px;height:18.60px;"><span class="tc">TOTALE</span></div>
<div style="left:128.60px;top:421.40px;width:63.60px;height:18.60px;"><span class="tr" style="color:#1a1a1a">15.964</span></div>
<div style="left:192.20px;top:421.40px;width:63.20px;height:18.60px;"><span class="tr" style="color:#1a1a1a">1.651</span></div>
<div style="left:255.40px;top:421.40px;width:63.80px;height:18.60px;"><span class="tr" style="color:#1a1a1a">281.576</span></div>
<div style="left:319.20px;top:421.40px;width:63.00px;height:18.60px;"><span class="tr" style="color:#1a1a1a">299.191</span></div>
<div style="left:382.20px;top:421.40px;width:65.20px;height:18.60px;"><span class="tr" style="color:#0d3d1a">279.282</span></div>
<div style="left:447.40px;top:421.40px;width:65.70px;height:18.60px;"><span class="tr" style="color:#6a0000">38.122</span></div>
<div style="left:513.10px;top:421.40px;width:60.60px;height:18.60px;"><span class="tr" style="color:#1a1a1a">616.595</span></div>
<div style="left:573.70px;top:421.40px;width:66.80px;height:18.60px;"><span class="tr" style="color:#1a1a1a">26.831</span></div>
<div style="left:640.50px;top:421.40px;width:66.10px;height:18.60px;"><span class="tr" style="color:#1a1a1a">421.834</span></div>
<div style="left:706.60px;top:421.40px;width:64.80px;height:18.60px;"><span class="tr" style="color:#1a1a1a">194.761</span></div>
<div style="left:771.40px;top:421.40px;width:60.60px;height:18.60px;"><span class="tr" style="color:#1a1a1a">616.595</span></div>
<div style="left:832.00px;top:421.40px;width:59.90px;height:18.60px;"><span class="tr" style="color:#0a2a40">9.316.495</span></div>
<div style="left:891.90px;top:421.40px;width:59.90px;height:18.60px;"><span class="tr" style="color:#1a1a1a">15.353.490</span></div>
<div style="left:951.80px;top:421.40px;width:59.50px;height:18.60px;"><span class="tr" style="color:#1a1a1a">201.452</span></div>
</div>
</body></html>
